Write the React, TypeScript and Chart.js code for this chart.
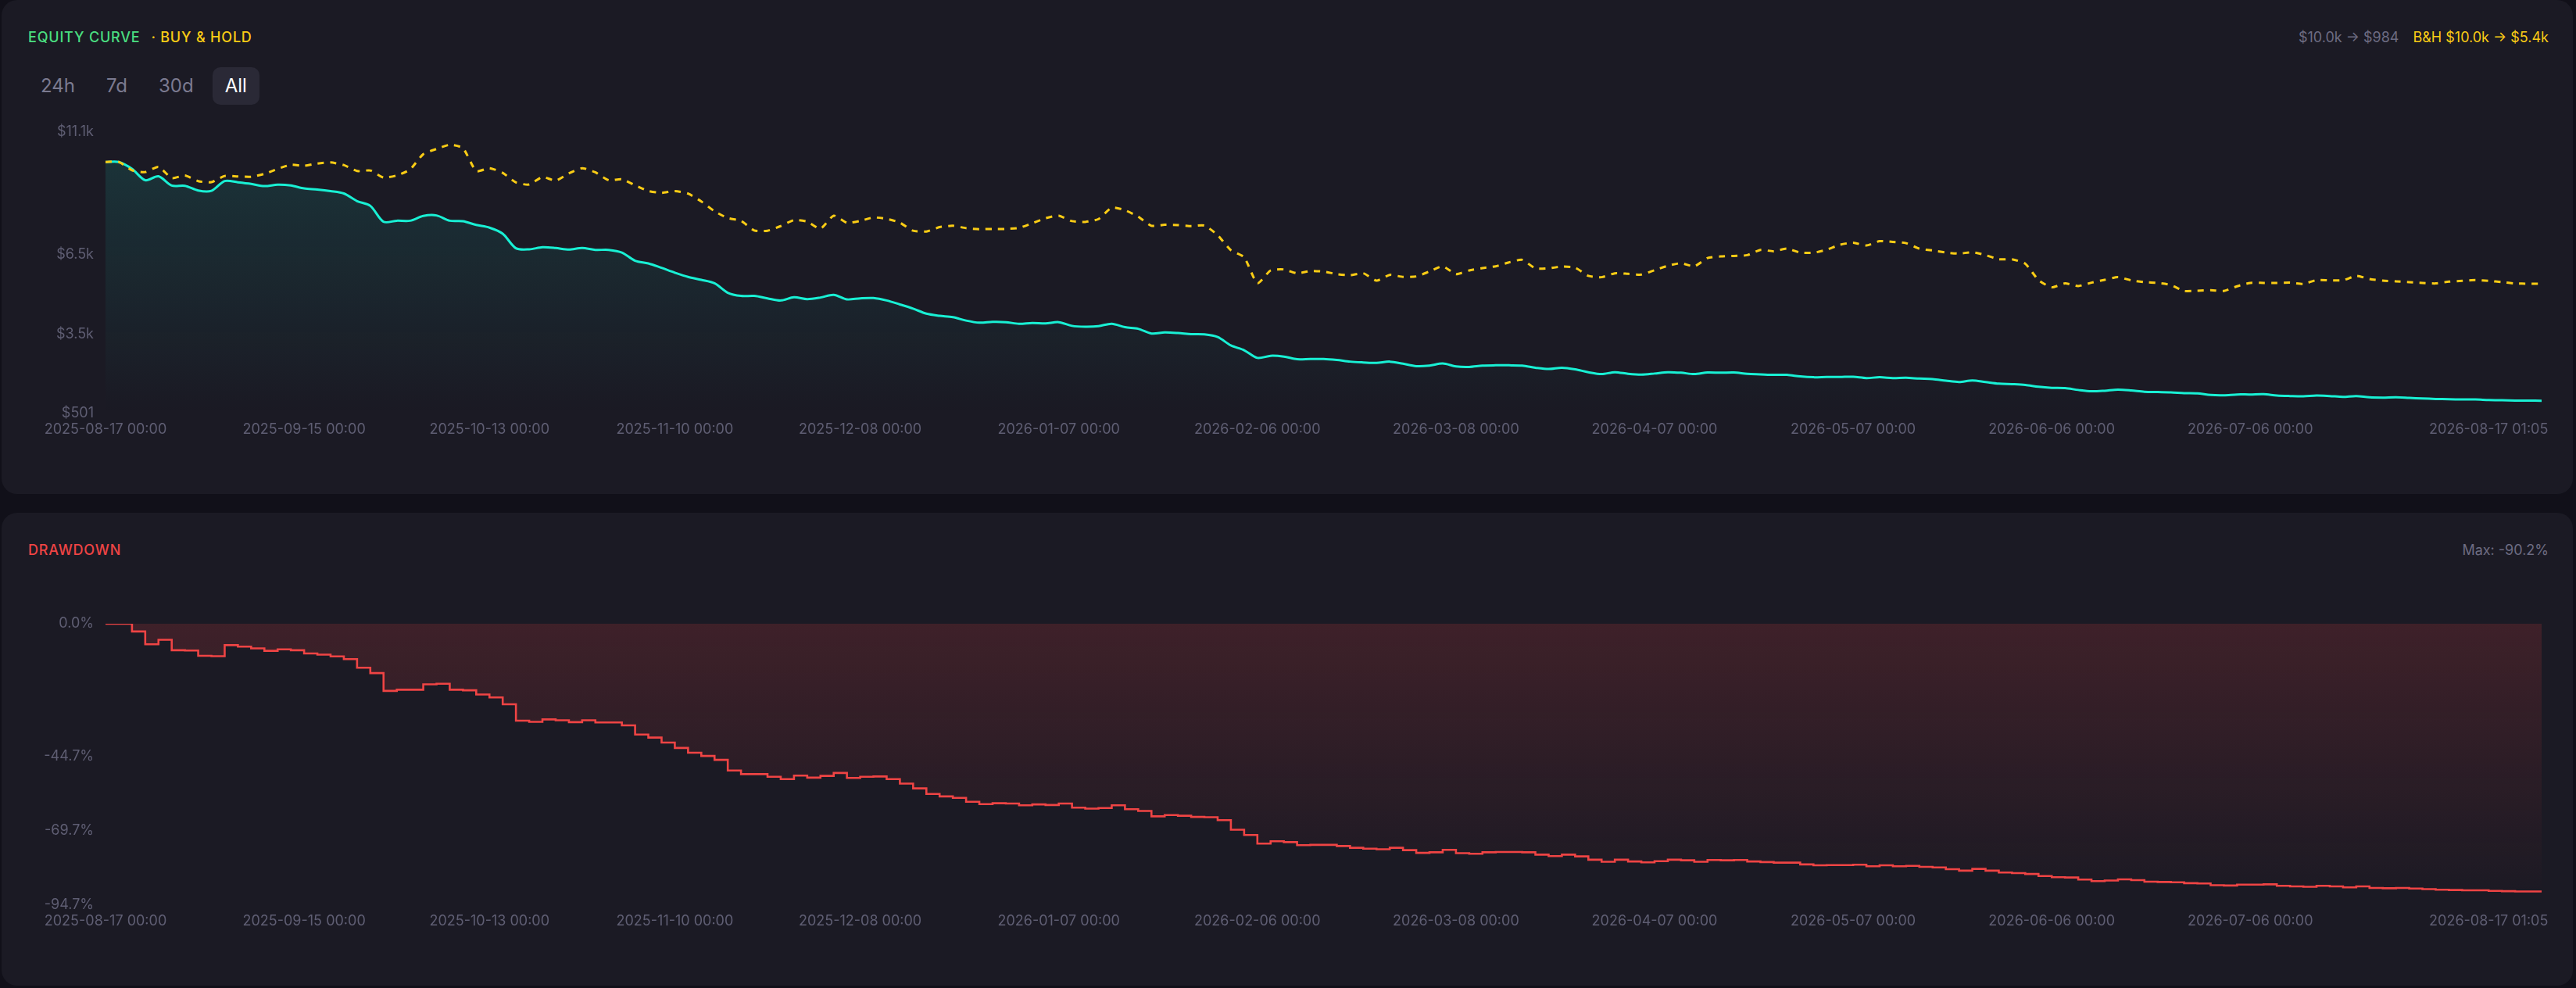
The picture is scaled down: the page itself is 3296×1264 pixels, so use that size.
import React, { useEffect, useRef } from 'react';
import { Chart, registerables } from 'chart.js';

Chart.register(...registerables);

// ---- x axis (position index along the run, ticks placed where the reference shows them)
const xMax = 368;
const xTickPositions = [0, 30, 58, 86, 114, 144, 174, 204, 234, 264, 294, 324, 360];
const xTickLabels = [
  '2025-08-17 00:00', '2025-09-15 00:00', '2025-10-13 00:00', '2025-11-10 00:00',
  '2025-12-08 00:00', '2026-01-07 00:00', '2026-02-06 00:00', '2026-03-08 00:00',
  '2026-04-07 00:00', '2026-05-07 00:00', '2026-06-06 00:00', '2026-07-06 00:00',
  '2026-08-17 01:05',
];

// ---- equity curve (every 2 positions)
const equityStep = 2;
const equityValues = [
  10000, 10000, 9740, 9310, 9460, 9110, 9100, 8920, 8910, 9280,
  9230, 9170, 9090, 9140, 9110, 9000, 8960, 8900, 8810, 8520,
  8340, 7740, 7780, 7780, 7960, 7980, 7780, 7760, 7620, 7520,
  7290, 6740, 6700, 6780, 6750, 6690, 6750, 6680, 6680, 6580,
  6270, 6170, 6000, 5820, 5660, 5550, 5420, 5060, 4940, 4940,
  4850, 4770, 4890, 4820, 4880, 4980, 4810, 4850, 4860, 4770,
  4620, 4460, 4270, 4190, 4140, 4010, 3930, 3960, 3950, 3890,
  3920, 3900, 3950, 3810, 3780, 3800, 3890, 3760, 3700, 3520,
  3560, 3540, 3500, 3490, 3390, 3070, 2890, 2600, 2680, 2650,
  2550, 2560, 2560, 2520, 2460, 2430, 2410, 2460, 2380, 2290,
  2310, 2390, 2280, 2260, 2310, 2320, 2320, 2310, 2230, 2180,
  2230, 2170, 2060, 1990, 2060, 2000, 1970, 2010, 2060, 2040,
  1990, 2050, 2040, 2050, 2000, 1980, 1960, 1960, 1900, 1870,
  1880, 1880, 1890, 1840, 1870, 1840, 1850, 1820, 1800, 1740,
  1690, 1750, 1690, 1630, 1610, 1580, 1510, 1470, 1460, 1390,
  1340, 1360, 1400, 1370, 1320, 1310, 1300, 1270, 1260, 1200,
  1190, 1220, 1220, 1230, 1180, 1160, 1150, 1180, 1160, 1130,
  1160, 1110, 1100, 1110, 1090, 1070, 1050, 1040, 1030, 1030,
  1010, 1000, 990, 990, 984,
];

// ---- buy & hold (every 2 positions)
const buyHoldStep = 2;
const buyHoldValues = [
  10000, 10000, 9686, 9618, 9814, 9392, 9490, 9275, 9236, 9471,
  9451, 9441, 9549, 9736, 9892, 9853, 9941, 9981, 9883, 9657,
  9677, 9412, 9490, 9716, 10294, 10490, 10647, 10520, 9657, 9765,
  9588, 9226, 9147, 9432, 9294, 9569, 9765, 9608, 9314, 9343,
  9118, 8902, 8834, 8902, 8804, 8510, 8138, 7883, 7775, 7412,
  7402, 7579, 7804, 7745, 7481, 7971, 7706, 7775, 7902, 7853,
  7706, 7402, 7373, 7540, 7589, 7500, 7461, 7471, 7471, 7510,
  7687, 7873, 7971, 7765, 7736, 7844, 8275, 8177, 7932, 7589,
  7628, 7618, 7579, 7598, 7236, 6667, 6402, 5422, 5903, 5942,
  5795, 5883, 5863, 5765, 5726, 5795, 5520, 5736, 5657, 5677,
  5863, 6059, 5765, 5903, 5991, 6059, 6206, 6304, 5981, 5981,
  6050, 6010, 5697, 5648, 5795, 5775, 5746, 5912, 6079, 6177,
  6059, 6373, 6432, 6451, 6481, 6677, 6628, 6726, 6579, 6569,
  6687, 6873, 6951, 6844, 7010, 6981, 6932, 6726, 6657, 6579,
  6540, 6589, 6481, 6324, 6324, 6157, 5540, 5265, 5412, 5314,
  5442, 5550, 5648, 5530, 5461, 5432, 5354, 5128, 5138, 5158,
  5128, 5305, 5432, 5432, 5432, 5442, 5393, 5540, 5530, 5530,
  5697, 5579, 5520, 5491, 5461, 5432, 5412, 5481, 5510, 5540,
  5510, 5461, 5412, 5403, 5400,
];

// ---- drawdown in % (every 2 positions)
const drawdownStep = 2;
const drawdownValues = [
  0, 0, -2.6, -6.9, -5.4, -8.9, -9.0, -10.8, -10.9, -7.2,
  -7.7, -8.3, -9.1, -8.6, -8.9, -10.0, -10.4, -11.0, -11.9, -14.8,
  -16.6, -22.6, -22.2, -22.2, -20.4, -20.2, -22.2, -22.4, -23.8, -24.8,
  -27.1, -32.6, -33.0, -32.2, -32.5, -33.1, -32.5, -33.2, -33.2, -34.2,
  -37.3, -38.3, -40.0, -41.8, -43.4, -44.5, -45.8, -49.4, -50.6, -50.6,
  -51.5, -52.3, -51.1, -51.8, -51.2, -50.2, -51.9, -51.5, -51.4, -52.3,
  -53.8, -55.4, -57.3, -58.1, -58.6, -59.9, -60.7, -60.4, -60.5, -61.1,
  -60.8, -61.0, -60.5, -61.9, -62.2, -62.0, -61.1, -62.4, -63.0, -64.8,
  -64.4, -64.6, -65.0, -65.1, -66.1, -69.3, -71.1, -74.0, -73.2, -73.5,
  -74.5, -74.4, -74.4, -74.8, -75.4, -75.7, -75.9, -75.4, -76.2, -77.1,
  -76.9, -76.1, -77.2, -77.4, -76.9, -76.8, -76.8, -76.9, -77.7, -78.2,
  -77.7, -78.3, -79.4, -80.1, -79.4, -80.0, -80.3, -79.9, -79.4, -79.6,
  -80.1, -79.5, -79.6, -79.5, -80.0, -80.2, -80.4, -80.4, -81.0, -81.3,
  -81.2, -81.2, -81.1, -81.6, -81.3, -81.6, -81.5, -81.8, -82.0, -82.6,
  -83.1, -82.5, -83.1, -83.7, -83.9, -84.2, -84.9, -85.3, -85.4, -86.1,
  -86.6, -86.4, -86.0, -86.3, -86.8, -86.9, -87.0, -87.3, -87.4, -88.0,
  -88.1, -87.8, -87.8, -87.7, -88.2, -88.4, -88.5, -88.2, -88.4, -88.7,
  -88.4, -88.9, -89.0, -88.9, -89.1, -89.3, -89.5, -89.6, -89.7, -89.7,
  -89.9, -90.0, -90.1, -90.1, -90.2,
];

// ---- y axis ticks
const equityMin = 501;
const equityMax = 11127;
const equityTicks = [501, 3501, 6501, 11127];
const equityTickLabels = ['$501', '$3.5k', '$6.5k', '$11.1k'];
const drawdownMin = -94.7;
const drawdownMax = 0;
const drawdownTicks = [0, -44.7, -69.7, -94.7];
const drawdownTickLabels = ['0.0%', '-44.7%', '-69.7%', '-94.7%'];

// ---- header texts
const rangeButtons = ['24h', '7d', '30d', 'All'];
const activeRange = 'All';
const equitySummary = '$10.0k \u2192 $984';
const buyHoldSummary = 'B&H $10.0k \u2192 $5.4k';
const maxDrawdownText = 'Max: -90.2%';

// ---- styles
const FONT = 'Inter, "Noto Sans", sans-serif';
const PAGE_BG = '#111019';
const PANEL_BG = '#1b1a24';
const TICK_COLOR = '#5f5e73';
const CYAN = '#19f0d4';
const YELLOW = '#facc15';
const RED = '#ef4444';
const GREEN = '#4ade80';

const toPoints = (values: number[], step: number) =>
  values.map((v, i) => ({ x: i * step, y: v }));

function xAxisOptions() {
  return {
    type: 'linear',
    min: 0,
    max: xMax,
    grid: { display: false, drawTicks: false },
    border: { display: false },
    ticks: {
      autoSkip: false,
      maxRotation: 0,
      minRotation: 0,
      padding: 10,
      color: TICK_COLOR,
      font: { family: FONT, size: 18 },
      callback: (v: number) => {
        const i = xTickPositions.indexOf(v);
        return i >= 0 ? xTickLabels[i] : '';
      },
    },
    afterBuildTicks: (s: any) => {
      s.ticks = xTickPositions.map((v) => ({ value: v }));
    },
    afterFit: (s: any) => {
      s.height = 61;
      s.paddingLeft = 0;
      s.paddingRight = 0;
    },
  };
}

function yAxisOptions(min: number, max: number, ticks: number[], labels: string[]) {
  return {
    type: 'linear',
    min,
    max,
    grid: { display: false, drawTicks: false },
    border: { display: false },
    ticks: {
      padding: 15,
      color: TICK_COLOR,
      font: { family: FONT, size: 18 },
      callback: (v: number) => {
        const i = ticks.indexOf(v);
        return i >= 0 ? labels[i] : '';
      },
    },
    afterBuildTicks: (s: any) => {
      s.ticks = ticks.map((v) => ({ value: v }));
    },
    afterFit: (s: any) => {
      s.width = 133;
      s.paddingTop = 0;
      s.paddingBottom = 0;
    },
  };
}

function gradient(color: [number, number, number], top: number, bottom: number) {
  return (ctx: any) => {
    const chart = ctx.chart;
    const area = chart.chartArea;
    if (!area) return 'transparent';
    const g = chart.ctx.createLinearGradient(0, area.top, 0, area.bottom);
    g.addColorStop(0, `rgba(${color[0]},${color[1]},${color[2]},${top})`);
    g.addColorStop(1, `rgba(${color[0]},${color[1]},${color[2]},${bottom})`);
    return g;
  };
}

const panelStyle: React.CSSProperties = {
  position: 'absolute',
  left: 2,
  width: 3290,
  background: PANEL_BG,
  borderRadius: 20,
  overflow: 'hidden',
};

export default function App() {
  const eqRef = useRef<HTMLCanvasElement | null>(null);
  const ddRef = useRef<HTMLCanvasElement | null>(null);

  useEffect(() => {
    document.body.style.margin = '0';
    document.body.style.background = PAGE_BG;

    const eqChart = new Chart(eqRef.current as HTMLCanvasElement, {
      type: 'line',
      data: {
        datasets: [
          {
            label: 'Buy & Hold',
            data: toPoints(buyHoldValues, buyHoldStep),
            borderColor: YELLOW,
            borderWidth: 3,
            borderDash: [8, 8],
            pointRadius: 0,
            tension: 0.2,
            fill: false,
          },
          {
            label: 'Equity',
            data: toPoints(equityValues, equityStep),
            borderColor: CYAN,
            borderWidth: 3,
            pointRadius: 0,
            tension: 0.3,
            fill: 'start',
            backgroundColor: gradient([25, 240, 212], 0.13, 0),
          },
        ],
      } as any,
      options: {
        animation: false,
        responsive: false,
        layout: { padding: { top: 24, right: 40, bottom: 0, left: 0 } },
        plugins: { legend: { display: false }, tooltip: { enabled: false } },
        scales: {
          x: xAxisOptions(),
          y: yAxisOptions(equityMin, equityMax, equityTicks, equityTickLabels),
        },
      } as any,
    });

    const ddChart = new Chart(ddRef.current as HTMLCanvasElement, {
      type: 'line',
      data: {
        datasets: [
          {
            label: 'Drawdown',
            data: toPoints(drawdownValues, drawdownStep),
            borderColor: RED,
            borderWidth: 2.6,
            pointRadius: 0,
            stepped: true,
            fill: 'origin',
            backgroundColor: gradient([239, 68, 68], 0.17, 0),
          },
        ],
      } as any,
      options: {
        animation: false,
        responsive: false,
        layout: { padding: { top: 23, right: 40, bottom: 0, left: 0 } },
        plugins: { legend: { display: false }, tooltip: { enabled: false } },
        scales: {
          x: xAxisOptions(),
          y: yAxisOptions(drawdownMin, drawdownMax, drawdownTicks, drawdownTickLabels),
        },
      } as any,
    });

    return () => {
      eqChart.destroy();
      ddChart.destroy();
    };
  }, []);

  const headerText: React.CSSProperties = {
    position: 'absolute',
    top: 36,
    height: 24,
    lineHeight: '24px',
    fontFamily: FONT,
    fontSize: 18,
    whiteSpace: 'nowrap',
  };

  return (
    <div
      style={{
        position: 'fixed',
        left: 0,
        top: 0,
        width: 3296,
        height: 1264,
        background: PAGE_BG,
        fontFamily: FONT,
      }}
    >
      {/* Equity panel */}
      <div style={{ ...panelStyle, top: 0, height: 632 }}>
        <div style={{ ...headerText, left: 34, fontWeight: 500, letterSpacing: 0.8 }}>
          <span style={{ color: GREEN }}>EQUITY CURVE</span>
          <span style={{ color: YELLOW, marginLeft: 14 }}>{'\u00b7 BUY & HOLD'}</span>
        </div>
        <div style={{ ...headerText, right: 31, display: 'flex', gap: 18 }}>
          <span style={{ color: '#6d6c82' }}>{equitySummary}</span>
          <span style={{ color: YELLOW }}>{buyHoldSummary}</span>
        </div>
        <div style={{ position: 'absolute', top: 86, left: 34, display: 'flex', gap: 8 }}>
          {rangeButtons.map((b) => (
            <div
              key={b}
              style={{
                height: 48,
                lineHeight: '48px',
                padding: '0 16px',
                fontSize: 24,
                fontWeight: 400,
                borderRadius: 10,
                color: b === activeRange ? '#ffffff' : '#7b7a90',
                background: b === activeRange ? '#2a2936' : 'transparent',
              }}
            >
              {b}
            </div>
          ))}
        </div>
        <canvas
          ref={eqRef}
          width={3290}
          height={445}
          style={{ position: 'absolute', left: 0, top: 145, width: 3290, height: 445 }}
        />
      </div>

      {/* Drawdown panel */}
      <div style={{ ...panelStyle, top: 656, height: 605 }}>
        <div style={{ ...headerText, left: 34, color: RED, fontWeight: 500, letterSpacing: 0.8 }}>
          DRAWDOWN
        </div>
        <div style={{ ...headerText, right: 31, color: '#6d6c82' }}>{maxDrawdownText}</div>
        <canvas
          ref={ddRef}
          width={3290}
          height={444}
          style={{ position: 'absolute', left: 0, top: 119, width: 3290, height: 444 }}
        />
      </div>
    </div>
  );
}
